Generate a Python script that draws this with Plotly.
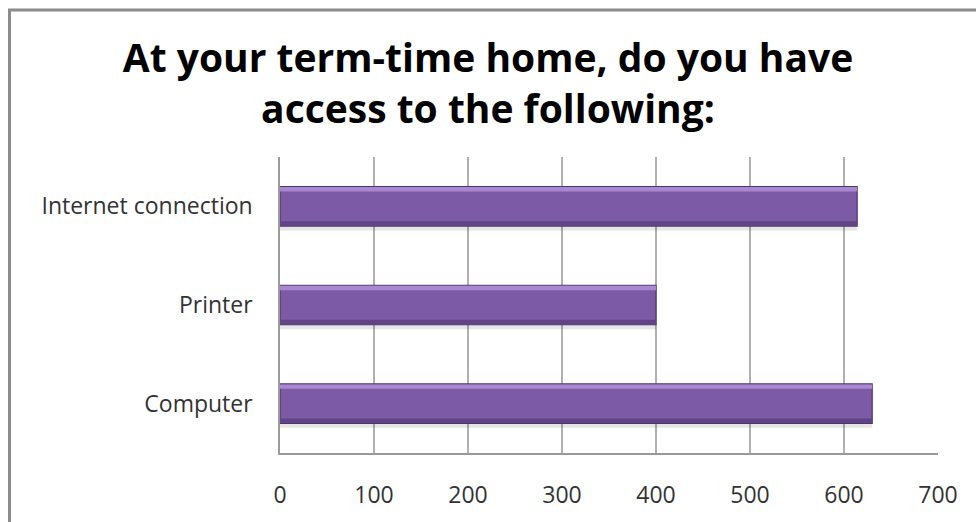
import plotly.graph_objects as go

# Survey results: access to facilities at term-time home
categories = ["Computer", "Printer", "Internet connection"]
counts = [630, 400, 614]
x_ticks = [0, 100, 200, 300, 400, 500, 600, 700]

title_text = "At your term-time home, do you have<br>access to the following:"

W, H = 976, 522
M_L, M_R, M_T, M_B = 280, 38, 157, 69
plot_w = W - M_L - M_R
plot_h = H - M_T - M_B


def px_to_paper_x(px):
    return (px - M_L) / plot_w


def px_to_paper_y(py):
    return (H - M_B - py) / plot_h


fig = go.Figure()

# soft drop shadow under each bar
fig.add_trace(go.Bar(
    y=categories, x=counts, orientation="h",
    width=0.40, offset=-0.245,
    marker=dict(color="rgba(0,0,0,0.10)", line=dict(width=0)),
    hoverinfo="skip", showlegend=False,
))

# main bar body
fig.add_trace(go.Bar(
    y=categories, x=counts, orientation="h",
    width=0.40, offset=-0.20,
    marker=dict(color="#7C5AA5", line=dict(color="#4E3468", width=1.2)),
    showlegend=False,
))

# darker lower bevel
fig.add_trace(go.Bar(
    y=categories, x=counts, orientation="h",
    width=0.045, offset=-0.195,
    marker=dict(color="#604486", line=dict(width=0)),
    hoverinfo="skip", showlegend=False,
))

# lighter upper bevel
fig.add_trace(go.Bar(
    y=categories, x=counts, orientation="h",
    width=0.045, offset=0.15,
    marker=dict(color="#A888D0", line=dict(width=0)),
    hoverinfo="skip", showlegend=False,
))

fig.update_layout(
    width=W, height=H,
    margin=dict(l=M_L, r=M_R, t=M_T, b=M_B),
    paper_bgcolor="white",
    plot_bgcolor="white",
    barmode="overlay",
    font=dict(family="Open Sans, Noto Sans, sans-serif", size=23, color="#333333"),
    title=dict(
        text=title_text,
        x=0.5, xref="container", xanchor="center",
        y=1 - 72 / H, yref="container", yanchor="middle",
        font=dict(family="Open Sans, sans-serif", size=39, color="#000000", weight="bold"),
    ),
    xaxis=dict(
        range=[0, 700],
        tickvals=x_ticks,
        showgrid=True, gridcolor="#B0B0B0", gridwidth=1.5,
        showline=True, linecolor="#9A9A9A", linewidth=1.5,
        zeroline=False,
        ticks="", ticklabelstandoff=21,
        tickfont=dict(size=23, color="#333333"),
        fixedrange=True,
    ),
    yaxis=dict(
        categoryorder="array", categoryarray=categories,
        range=[-0.5, 2.5],
        showgrid=False,
        showline=True, linecolor="#9A9A9A", linewidth=1.5,
        ticks="", ticklabelstandoff=21,
        tickfont=dict(size=23, color="#333333"),
        fixedrange=True,
    ),
    shapes=[
        dict(
            type="rect", xref="paper", yref="paper",
            x0=px_to_paper_x(9.5), x1=px_to_paper_x(1100),
            y0=px_to_paper_y(700), y1=px_to_paper_y(10),
            line=dict(color="#8C8C8C", width=3),
            fillcolor="rgba(0,0,0,0)", layer="below",
        )
    ],
)

fig.write_html("out.html")
